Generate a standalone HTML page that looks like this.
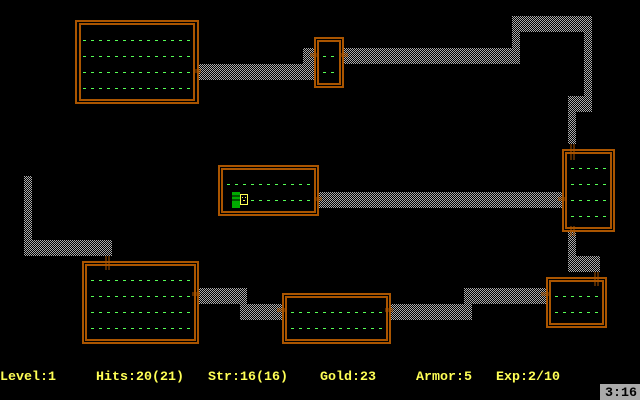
<!DOCTYPE html>
<html><head><style>
html,body{margin:0;padding:0;background:#000;width:640px;height:400px;overflow:hidden}
svg{display:block}
text{font-family:"Liberation Mono",monospace;font-size:13.33px;font-weight:bold}
</style></head><body>
<svg width="640" height="400" viewBox="0 0 640 400" xmlns="http://www.w3.org/2000/svg" shape-rendering="crispEdges">
<defs>
<pattern id="ck" width="2" height="2" patternUnits="userSpaceOnUse">
<rect width="2" height="2" fill="#000"/><rect width="1" height="1" fill="#aaa"/><rect x="1" y="1" width="1" height="1" fill="#aaa"/>
</pattern>
<pattern id="dt" x="3" y="0" width="8" height="1" patternUnits="userSpaceOnUse">
<rect x="0" y="0" width="3" height="1" fill="#55ff55"/>
</pattern>
</defs>
<g fill="url(#ck)">
<rect x="199" y="64" width="112" height="16"/>
<rect x="303" y="48" width="12" height="32"/>
<rect x="343" y="48" width="176" height="16"/>
<rect x="512" y="16" width="8" height="48"/>
<rect x="512" y="16" width="80" height="16"/>
<rect x="584" y="16" width="8" height="96"/>
<rect x="568" y="96" width="24" height="16"/>
<rect x="568" y="96" width="8" height="48"/>
<rect x="319" y="192" width="243" height="16"/>
<rect x="24" y="176" width="8" height="80"/>
<rect x="24" y="240" width="88" height="16"/>
<rect x="199" y="288" width="48" height="16"/>
<rect x="240" y="304" width="42" height="16"/>
<rect x="391" y="304" width="81" height="16"/>
<rect x="464" y="288" width="82" height="16"/>
<rect x="568" y="232" width="8" height="40"/>
<rect x="568" y="256" width="32" height="16"/>
</g>
<g fill="none" stroke="#aa5500" stroke-width="2">
<rect x="76" y="21" width="122" height="82"/><rect x="80" y="24" width="114" height="76"/>
<rect x="315" y="38" width="28" height="49"/><rect x="318" y="41" width="22" height="43"/>
<rect x="219" y="166" width="99" height="49"/><rect x="222" y="169" width="93" height="43"/>
<rect x="563" y="150" width="51" height="81"/><rect x="566" y="153" width="45" height="75"/>
<rect x="83" y="262" width="115" height="81"/><rect x="86" y="265" width="109" height="75"/>
<rect x="283" y="294" width="107" height="49"/><rect x="286" y="297" width="101" height="43"/>
<rect x="547" y="278" width="59" height="49"/><rect x="550" y="281" width="53" height="43"/>
</g>
<g stroke="#aa5500" stroke-width="1">
<path d="M193 70h8M193 72h8M310 54h8M310 56h8M340 54h8M340 56h8M314 198h8M314 200h8M558 198h8M558 200h8M192 293h8M192 295h8M277 309h8M277 311h8M385 309h8M385 311h8M541 293h8M541 295h8"/>
<path d="M571 144v16M574 144v16M571 226v10M574 226v10M106 256v14M109 256v14M595 272v14M598 272v14"/>
</g>
<g fill="url(#dt)">
<rect x="83" y="40" width="110" height="1"/><rect x="83" y="56" width="110" height="1"/><rect x="83" y="72" width="110" height="1"/><rect x="83" y="88" width="110" height="1"/>
<rect x="323" y="56" width="12" height="1"/><rect x="323" y="72" width="12" height="1"/>
<rect x="227" y="184" width="86" height="1"/>
<rect x="251" y="200" width="62" height="1"/>
<rect x="571" y="168" width="36" height="1"/><rect x="571" y="184" width="36" height="1"/><rect x="571" y="200" width="36" height="1"/><rect x="571" y="216" width="36" height="1"/>
<rect x="91" y="280" width="100" height="1"/><rect x="91" y="296" width="100" height="1"/><rect x="91" y="312" width="100" height="1"/><rect x="91" y="328" width="100" height="1"/>
<rect x="291" y="312" width="92" height="1"/><rect x="291" y="328" width="92" height="1"/>
<rect x="555" y="296" width="44" height="1"/><rect x="555" y="312" width="44" height="1"/>
</g>
<rect x="232" y="192" width="8" height="16" fill="#00aa00"/>
<path d="M232 196h8M232 200h8" stroke="#000" stroke-width="1"/>
<rect x="240.5" y="194.5" width="7" height="10" fill="none" stroke="#ffff55" stroke-width="1"/>
<rect x="242" y="197" width="1" height="1" fill="#ffff55"/><rect x="245" y="197" width="1" height="1" fill="#ffff55"/>
<rect x="243" y="200" width="2" height="1" fill="#ffff55"/>
<g fill="#ffff55">
<text x="0" y="380">Level:1</text>
<text x="96" y="380">Hits:20(21)</text>
<text x="208" y="380">Str:16(16)</text>
<text x="320" y="380">Gold:23</text>
<text x="416" y="380">Armor:5</text>
<text x="496" y="380">Exp:2/10</text>
</g>
<rect x="600" y="384" width="40" height="16" fill="#aaa"/>
<text x="605" y="396" fill="#000">3:16</text>
</svg>
</body></html>
